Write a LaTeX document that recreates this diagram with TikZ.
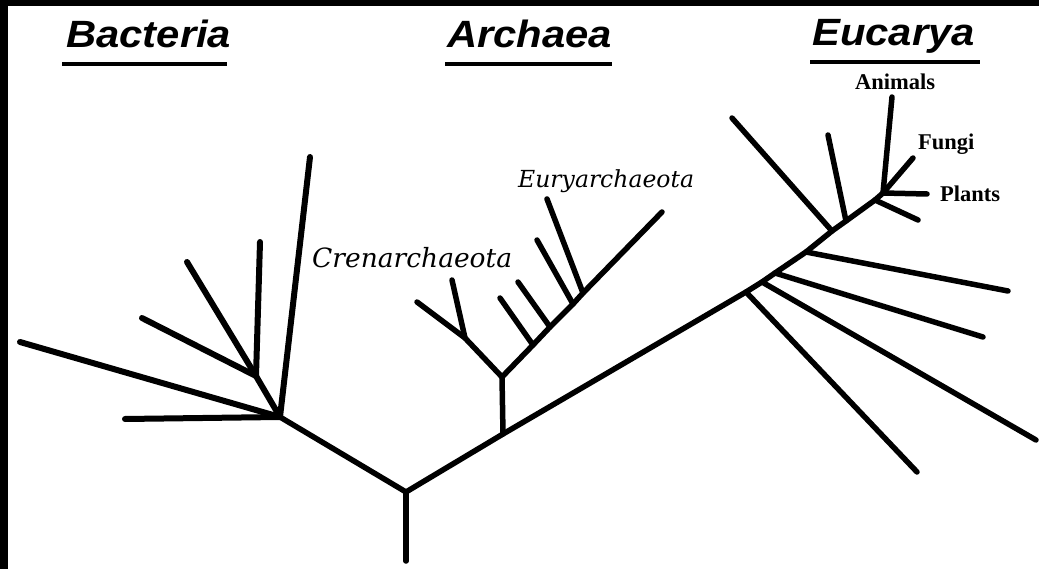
\documentclass[tikz,border=0pt]{standalone}
\usepackage{fontspec}
\setmainfont{Liberation Serif}
\newfontfamily\headfont{Liberation Sans}
\newfontfamily\labfont{DejaVu Serif}
\begin{document}
\begin{tikzpicture}[x=1pt,y=-1pt,
  br/.style={line width=5.5pt, line cap=round, line join=round},
  brb/.style={br, line width=6pt},
  ul/.style={line width=4.5pt},
  head/.style={anchor=base west, inner sep=0pt, font=\headfont\bfseries\itshape\fontsize{38}{40}\selectfont},
  phyl/.style={anchor=base west, inner sep=0pt, font=\labfont\itshape\fontsize{26.5}{28}\selectfont},
  phyls/.style={phyl, font=\labfont\itshape\fontsize{23.5}{26}\selectfont},
  kingd/.style={anchor=base west, inner sep=0pt, font=\bfseries\fontsize{22.5}{24}\selectfont}]
% frame
\fill[white] (0,0) rectangle (1039,569);
\fill[black] (0,0) rectangle (8,569);
\fill[black] (0,0) rectangle (1039,6);
\useasboundingbox (0,0) rectangle (1039,569);
% headings
\node[head] (hb) at (66,48) {\scalebox{1.1}[1]{Bacteria}};
\node[head] (ha) at (447,48) {\scalebox{1.1}[1]{Archaea}};
\node[head] (he) at (812,46) {\scalebox{1.1}[1]{Eucarya}};
\coordinate (ub1) at (62,64);  \coordinate (ub2) at (227,64);
\coordinate (ua1) at (445,64); \coordinate (ua2) at (612,64);
\coordinate (ue1) at (810,62); \coordinate (ue2) at (980,62);
\draw[ul] (ub1) -- (ub2);
\draw[ul] (ua1) -- (ua2);
\draw[ul] (ue1) -- (ue2);
% labels
\node[phyl] (cren) at (312,268) {Crenarchaeota};
\node[phyls] (eury) at (518,188) {Euryarchaeota};
\node[kingd] (anim) at (855,90) {Animals};
\node[kingd] (fung) at (918,150) {Fungi};
\node[kingd] (plan) at (940,202) {Plants};
% trunk
\coordinate (base) at (406,561);
\coordinate (R) at (406,492);
\coordinate (B) at (280,417);
\coordinate (A0) at (503,434);
\coordinate (E1) at (746,292);
\coordinate (E2) at (762,282);
\coordinate (E3) at (775,273);
\coordinate (E4) at (806,252);
\coordinate (E5) at (832,231);
\coordinate (E6) at (846,221);
\coordinate (E7) at (875,200);
\coordinate (E8) at (883,193);
\draw[br] (base) -- (R);
\draw[br] (R) -- (B);
\draw[br] (R) -- (A0) -- (E1) -- (E2) -- (E3) -- (E4) -- (E5) -- (E6) -- (E7) -- (E8);
% Bacteria
\coordinate (S1) at (256,376);
\coordinate (b1) at (20,342);
\coordinate (b2) at (142,318);
\coordinate (b3) at (187,262);
\coordinate (b4) at (260,242);
\coordinate (b5) at (310,157);
\coordinate (b6) at (125,419);
\draw[brb] (B) -- (b5);
\draw[brb] (B) -- (b6);
\draw[brb] (B) -- (b1);
\draw[brb] (B) -- (S1);
\draw[brb] (S1) -- (b2);
\draw[brb] (S1) -- (b3);
\draw[brb] (S1) -- (b4);
% Archaea
\coordinate (A1) at (502,377);
\coordinate (C1) at (465,338);
\coordinate (c1) at (417,302);
\coordinate (c2) at (452,280);
\coordinate (U1) at (533,345);
\coordinate (U2) at (550,327);
\coordinate (U3) at (573,304);
\coordinate (U4) at (583,293);
\coordinate (u0) at (662,212);
\coordinate (u1) at (500,298);
\coordinate (u2) at (518,282);
\coordinate (u3) at (537,240);
\coordinate (u4) at (547,199);
\draw[br] (A0) -- (A1);
\draw[br] (A1) -- (C1) -- (c1);
\draw[br] (C1) -- (c2);
\draw[br] (A1) -- (U1) -- (U2) -- (U3) -- (U4) -- (u0);
\draw[br] (U1) -- (u1);
\draw[br] (U2) -- (u2);
\draw[br] (U3) -- (u3);
\draw[br] (U4) -- (u4);
% Eucarya
\coordinate (e1) at (917,472);
\coordinate (e2) at (1036,440);
\coordinate (e3) at (983,337);
\coordinate (e4) at (1008,291);
\coordinate (e5) at (732,118);
\coordinate (e6) at (828,135);
\coordinate (e7) at (918,220);
\coordinate (ea) at (892,97);
\coordinate (ef) at (913,158);
\coordinate (ep) at (927,194);
\draw[br] (E1) -- (e1);
\draw[br] (E2) -- (e2);
\draw[br] (E3) -- (e3);
\draw[br] (E4) -- (e4);
\draw[br] (E5) -- (e5);
\draw[br] (E6) -- (e6);
\draw[br] (E7) -- (e7);
\draw[br] (E8) -- (ea);
\draw[br] (E8) -- (ef);
\draw[br] (E8) -- (ep);
\end{tikzpicture}
\end{document}
